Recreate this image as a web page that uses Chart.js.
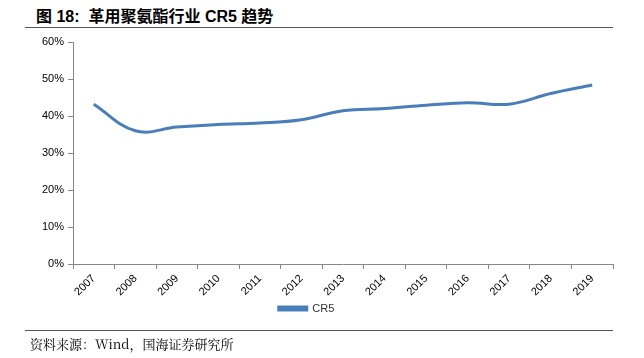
<!DOCTYPE html>
<html>
<head>
<meta charset="utf-8">
<script src="https://cdn.jsdelivr.net/npm/chart.js@4.4.1/dist/chart.umd.min.js"></script>
<style>
  body { margin: 0; background: #fff; }
  #wrap { position: relative; width: 644px; height: 358px; }
  #title { position: absolute; left: 36px; top: 3px; font: bold 16px "Liberation Sans", "Noto Sans CJK SC", sans-serif; color: #000; }
  .rule { position: absolute; left: 25px; width: 588px; height: 1px; background: #555; }
  #src { position: absolute; left: 30px; top: 334px; font: 13px "Noto Serif CJK SC", "Noto Sans CJK SC", serif; color: #000; }
  canvas { position: absolute; left: 0; top: 0; }
</style>
</head>
<body>
<div id="wrap">
  <div id="title">图 18:&nbsp; 革用聚氨酯行业 CR5 趋势</div>
  <div class="rule" style="top:27px"></div>
  <canvas id="chart" width="644" height="358"></canvas>
  <div class="rule" style="top:330px"></div>
  <div id="src">资料来源：Wind，国海证券研究所</div>
</div>
<script>
// 연도, CR5 값 (%)
const years = ['2007','2008','2009','2010','2011','2012','2013','2014','2015','2016','2017','2018','2019'];
const cr5 = [43.2, 36.0, 37.0, 37.7, 38.1, 39.0, 41.4, 42.0, 42.9, 43.6, 43.2, 46.1, 48.4];
const yTicks = [0, 10, 20, 30, 40, 50, 60];

const blue = '#4a7ebb';
const axisGrey = '#888';

const data = {
  labels: years,
  datasets: [{
    label: 'CR5',
    data: cr5,
    borderColor: blue,
    backgroundColor: blue,
    borderWidth: 3,
    pointRadius: 0,
    tension: 0.4
  }]
};

const config = {
  type: 'line',
  data: data,
  options: {
    responsive: false,
    animation: false,
    layout: { padding: { left: 0, right: 31, top: 42, bottom: 34 } },
    plugins: {
      legend: {
        position: 'bottom',
        labels: {
          boxWidth: 28,
          boxHeight: 3,
          padding: 6,
          color: '#333',
          font: { family: 'Liberation Sans', size: 11 }
        }
      },
      tooltip: { enabled: false }
    },
    scales: {
      x: {
        offset: true,
        afterFit: (s) => { s.height = 33; },
        grid: { offset: true, drawOnChartArea: false, color: axisGrey, tickLength: 5 },
        border: { color: axisGrey },
        ticks: {
          maxRotation: 45, minRotation: 45,
          color: '#000',
          font: { family: 'Liberation Sans', size: 11 }
        }
      },
      y: {
        min: 0, max: 60,
        afterBuildTicks: (s) => { s.ticks = yTicks.map(v => ({ value: v })); },
        afterFit: (s) => { s.width = 73; },
        grid: { drawOnChartArea: false, color: axisGrey, tickLength: 5 },
        border: { color: axisGrey },
        ticks: {
          color: '#000',
          padding: 4,
          font: { family: 'Liberation Sans', size: 11 },
          callback: (v) => v + '%'
        }
      }
    }
  }
};

new Chart(document.getElementById('chart'), config);
</script>
</body>
</html>
